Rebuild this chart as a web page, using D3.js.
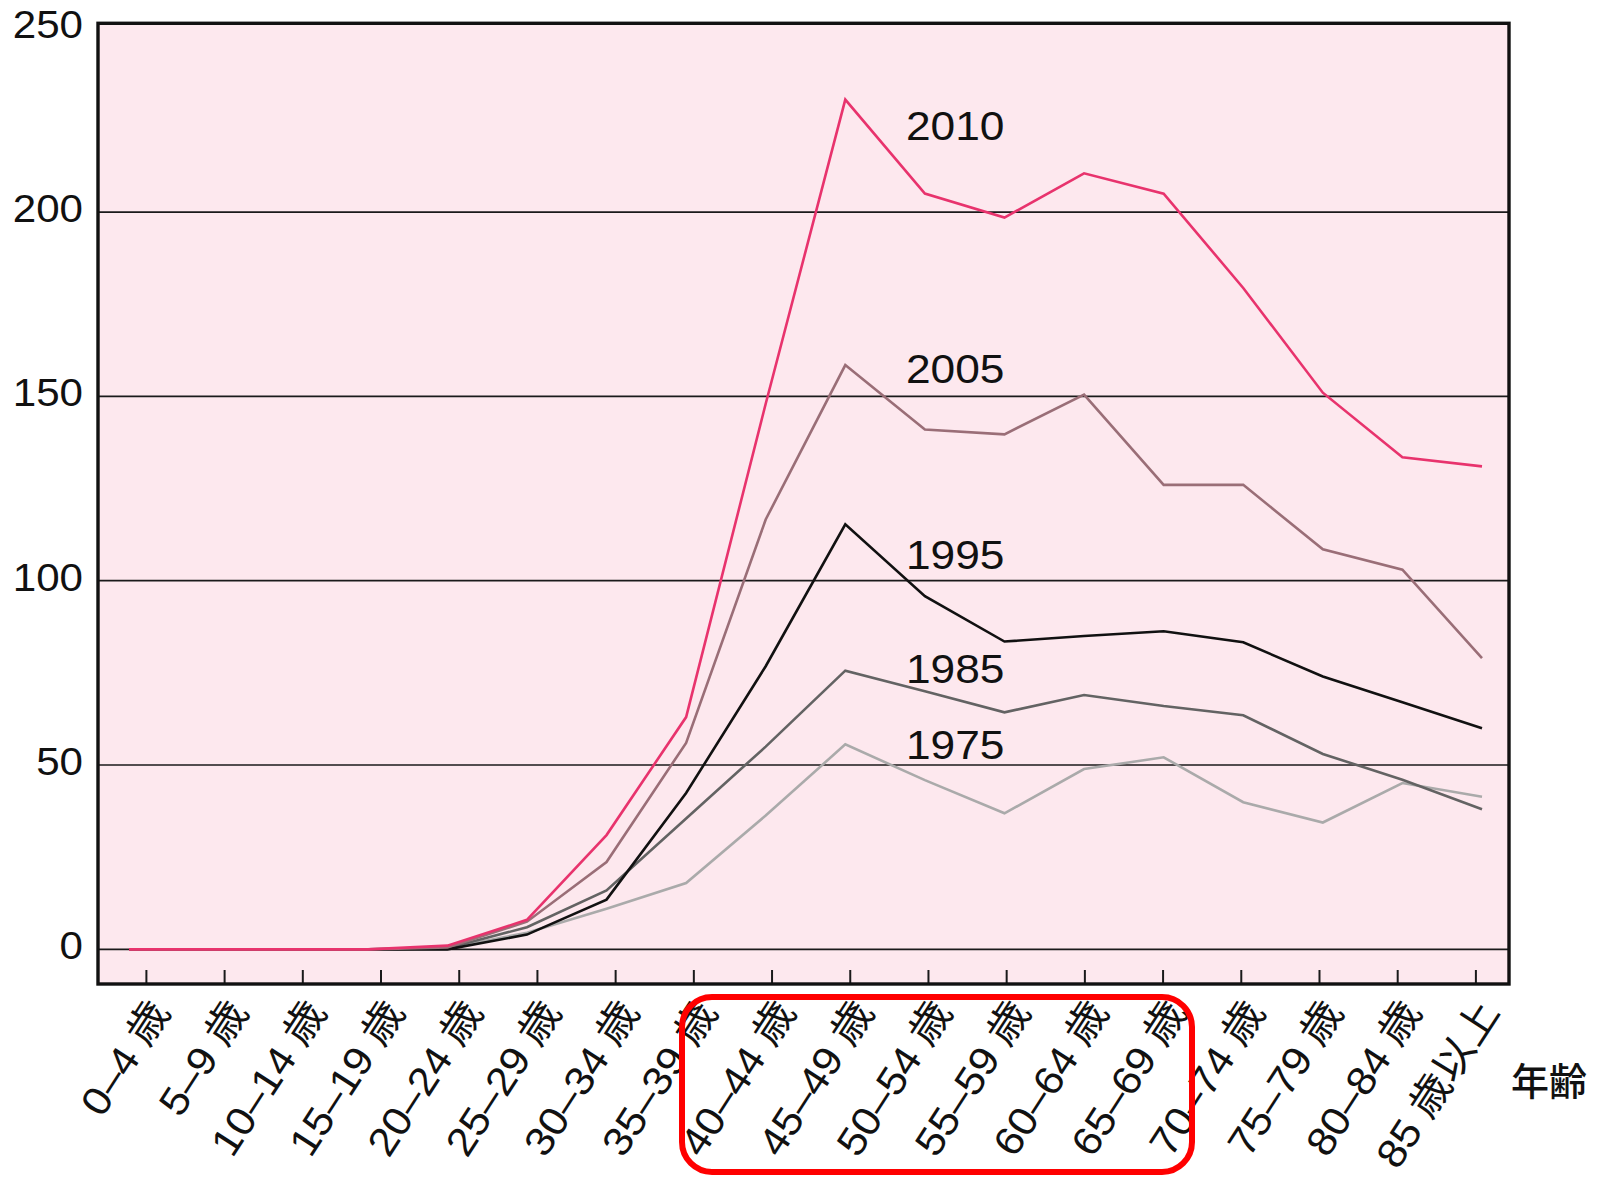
<!DOCTYPE html>
<html>
<head>
<meta charset="utf-8">
<script src="https://cdn.jsdelivr.net/npm/d3@7"></script>
<style>
  html, body { margin: 0; padding: 0; background: #fff; }
  svg text { font-family: "Liberation Sans", Arial, "Noto Sans CJK JP", sans-serif; fill: #111; }
</style>
</head>
<body>
<svg id="chart" width="1601" height="1177"></svg>
<script>
// age groups (x categories)
const ages = ["0\u20134 歳", "5\u20139 歳", "10\u201314 歳", "15\u201319 歳", "20\u201324 歳", "25\u201329 歳",
  "30\u201334 歳", "35\u201339 歳", "40\u201344 歳", "45\u201349 歳", "50\u201354 歳", "55\u201359 歳",
  "60\u201364 歳", "65\u201369 歳", "70\u201374 歳", "75\u201379 歳", "80\u201384 歳", "85 歳以上"];

const years = ["1975", "1985", "1995", "2005", "2010"];

// values per age group
const v1975 = [0, 0, 0, 0, 0.3, 4.5, 11, 18, 36.3, 55.6, 45.9, 36.9, 48.9, 52.1, 39.9, 34.4, 45.1, 41.4];
const v1985 = [0, 0, 0, 0, 0.3, 6, 16, 35.5, 55, 75.6, 70, 64.3, 69, 66, 63.5, 53, 46, 38];
const v1995 = [0, 0, 0, 0, 0, 4, 13.5, 42.4, 76.8, 115.3, 95.8, 83.5, 85, 86.3, 83.3, 74, 67, 60];
const v2005 = [0, 0, 0, 0, 0.5, 7.5, 23.7, 56, 116.6, 158.5, 141, 139.7, 150.5, 126, 126, 108.5, 103, 79];
const v2010 = [0, 0, 0, 0, 1, 8, 31, 63, 148, 230.5, 205, 198.5, 210.5, 205, 179.4, 151, 133.5, 131];

const yTicks = [0, 50, 100, 150, 200, 250];

const series = [v1975, v1985, v1995, v2005, v2010];
const colors = ["#aaaaaa", "#636363", "#111111", "#9a6e77", "#e8336d"];
// where each year's label sits, in value units
const labelAt = [51.6, 72.3, 103.3, 153.7, 219.5];

const plotLeft = 98, plotRight = 1509, plotTop = 23.3, plotBottom = 984;
const stretch = 1.08; // the original type is a little wider than Arial

const svg = d3.select("#chart");

const y = d3.scaleLinear().domain([-9.4, 251.2]).range([plotBottom, plotTop]);
const xTick = d3.scalePoint().domain(ages).range([146.4, 1475.9]);
const xLine = d3.scalePoint().domain(ages).range([129, 1482]);

// plot background
svg.append("rect")
  .attr("x", plotLeft).attr("y", plotTop)
  .attr("width", plotRight - plotLeft).attr("height", plotBottom - plotTop)
  .attr("fill", "#fde8ee");

// gridlines
svg.append("g").selectAll("line")
  .data(yTicks.filter(d => d < 250))
  .join("line")
  .attr("x1", plotLeft).attr("x2", plotRight)
  .attr("y1", d => y(d)).attr("y2", d => y(d))
  .attr("stroke", "#1a1a1a")
  .attr("stroke-width", 1.7);

// y labels
svg.append("g").selectAll("text")
  .data(yTicks)
  .join("text")
  .attr("text-anchor", "end")
  .attr("font-size", 39)
  .attr("transform", d => "translate(83," + (y(d) + 10) + ") scale(" + stretch + ",1)")
  .text(d => d);

// x ticks
svg.append("g").selectAll("line")
  .data(ages)
  .join("line")
  .attr("x1", d => xTick(d)).attr("x2", d => xTick(d))
  .attr("y1", plotBottom - 14).attr("y2", plotBottom)
  .attr("stroke", "#1a1a1a")
  .attr("stroke-width", 2);

// x labels
svg.append("g").selectAll("text")
  .data(ages)
  .join("text")
  .attr("text-anchor", "end")
  .attr("font-size", 40)
  .attr("transform", d => "translate(" + (xTick(d) + 25) + "," + (plotBottom + 28) + ") rotate(-57) scale(" + stretch + ",1)")
  .text(d => d);

// lines
const line = d3.line()
  .x((d, i) => xLine(ages[i]))
  .y(d => y(d));

svg.append("g").selectAll("path")
  .data(series)
  .join("path")
  .attr("d", line)
  .attr("fill", "none")
  .attr("stroke", (d, i) => colors[i])
  .attr("stroke-width", 2.6)
  .attr("stroke-linejoin", "miter");

// year labels
svg.append("g").selectAll("text")
  .data(years)
  .join("text")
  .attr("font-size", 41)
  .attr("transform", (d, i) => "translate(906," + y(labelAt[i]) + ") scale(" + stretch + ",1)")
  .text(d => d);

// frame
svg.append("rect")
  .attr("x", plotLeft).attr("y", plotTop)
  .attr("width", plotRight - plotLeft).attr("height", plotBottom - plotTop)
  .attr("fill", "none")
  .attr("stroke", "#111")
  .attr("stroke-width", 3.4);

// axis title
svg.append("text")
  .attr("x", 1511).attr("y", 1095)
  .attr("font-size", 38)
  .attr("font-weight", 500)
  .text("年齢");

// red highlight box
svg.append("rect")
  .attr("x", 682).attr("y", 997)
  .attr("width", 510).attr("height", 175)
  .attr("rx", 30)
  .attr("fill", "none")
  .attr("stroke", "#ff0000")
  .attr("stroke-width", 6);
</script>
</body>
</html>
